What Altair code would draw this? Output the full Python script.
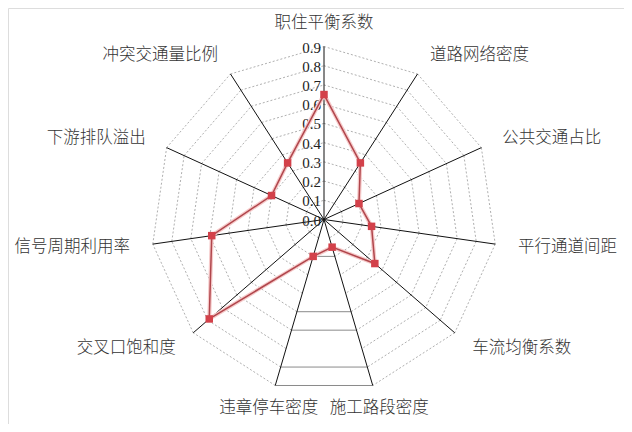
import math
import altair as alt
import pandas as pd

categories = ["职住平衡系数", "道路网络密度", "公共交通占比", "平行通道间距", "车流均衡系数",
              "施工路段密度", "违章停车密度", "交叉口饱和度", "信号周期利用率", "下游排队溢出",
              "冲突交通量比例"]
values = [0.65, 0.35, 0.20, 0.25, 0.35, 0.15, 0.20, 0.79, 0.59, 0.30, 0.35]
ticks = [0.0, 0.1, 0.2, 0.3, 0.4, 0.5, 0.6, 0.7, 0.8, 0.9]
tick_labels = ["0.0", "0.1", "0.2", "0.3", "0.4", "0.5", "0.6", "0.7", "0.8", "0.9"]
solid_bottom_levels = [0.2, 0.5, 0.6, 0.8, 0.9]

n = len(categories)
r_max = ticks[-1]
k = 173 / r_max  # px per unit
W, H = 616, 416
cx, cy = 316, 211.5
xdom = [-cx / k, (W - cx) / k]
ydom = [-(H - cy) / k, cy / k]


def ang(i):
    return math.radians(90 - i * 360 / n)


seg_rows = []
for lv in ticks[1:]:
    for i in range(n):
        j = (i + 1) % n
        row = dict(x=lv * math.cos(ang(i)), y=lv * math.sin(ang(i)),
                   x2=lv * math.cos(ang(j)), y2=lv * math.sin(ang(j)))
        if i == 5:
            if lv in solid_bottom_levels:
                row["kind"] = "solid"
            else:
                continue
        else:
            row["kind"] = "dash"
        seg_rows.append(row)
segs = pd.DataFrame(seg_rows)

spokes = pd.DataFrame([dict(x=0.0, y=0.0, x2=r_max * math.cos(ang(i)), y2=r_max * math.sin(ang(i)))
                       for i in range(n)])

series = pd.DataFrame([dict(order=i, x=values[i % n] * math.cos(ang(i % n)),
                            y=values[i % n] * math.sin(ang(i % n)))
                       for i in range(n + 1)])
pts = series.iloc[:n]

lab_r = 1.02
labels = []
for i, c in enumerate(categories):
    co = math.cos(ang(i))
    labels.append(dict(label=c, x=lab_r * co, y=lab_r * math.sin(ang(i)),
                       al="left" if co > 0.3 else ("right" if co < -0.3 else "center")))
labels = pd.DataFrame(labels)

tickdf = pd.DataFrame(dict(x=[0.0] * len(ticks), y=ticks, label=tick_labels))

X = alt.X("x:Q", scale=alt.Scale(domain=xdom, nice=False, zero=False), axis=None)
Y = alt.Y("y:Q", scale=alt.Scale(domain=ydom, nice=False, zero=False), axis=None)

ring_dash = alt.Chart(segs).transform_filter("datum.kind == 'dash'").mark_rule(
    color="#9a9a9a", strokeWidth=0.8, strokeDash=[2, 2]).encode(x=X, y=Y, x2="x2:Q", y2="y2:Q")
ring_solid = alt.Chart(segs).transform_filter("datum.kind == 'solid'").mark_rule(
    color="#8a8a8a", strokeWidth=1).encode(x=X, y=Y, x2="x2:Q", y2="y2:Q")
spoke = alt.Chart(spokes).mark_rule(color="#111111", strokeWidth=1).encode(
    x=X, y=Y, x2="x2:Q", y2="y2:Q")

halo = alt.Chart(series).mark_line(color="#f6caca", strokeWidth=4).encode(x=X, y=Y, order="order:Q")
line = alt.Chart(series).mark_line(color="#b0464c", strokeWidth=1.5).encode(x=X, y=Y, order="order:Q")
marks = alt.Chart(pts).mark_square(size=56, color="#d3414a", opacity=1).encode(x=X, y=Y)

tick_text = alt.Chart(tickdf).mark_text(align="right", baseline="middle", dx=-3, dy=1,
                                        font="Liberation Serif", fontSize=15, color="#222222").encode(
    x=X, y=Y, text="label:N")

lab_layers = []
for a in ["left", "right", "center"]:
    lab_layers.append(
        alt.Chart(labels).transform_filter(f"datum.al == '{a}'").mark_text(
            align=a, baseline="middle", font="Noto Sans CJK SC", fontSize=16.5,
            fontWeight=300, color="#333333"
        ).encode(x=X, y=Y, text="label:N")
    )

chart = alt.layer(ring_dash, ring_solid, spoke, tick_text, halo, line, marks, *lab_layers).properties(
    width=W, height=H, autosize=alt.AutoSizeParams(type="none"), padding=0
).configure_view(stroke=None).configure(background="white")

chart.save("out.html", embed_options={"renderer": "svg", "actions": False})
